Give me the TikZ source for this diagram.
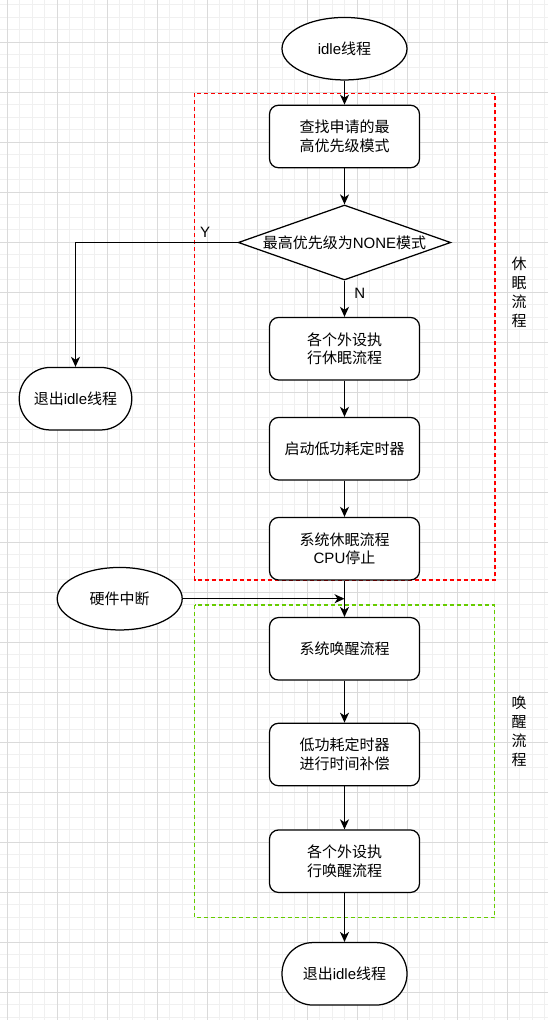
\documentclass[tikz,border=0pt]{standalone}
\usepackage{fontspec}
\setmainfont{Noto Sans CJK SC}
\newfontfamily\latin{Liberation Sans}
\usepackage{xcolor}
\usetikzlibrary{shapes.geometric, arrows.meta, positioning}
\definecolor{gridminor}{HTML}{F0F0F0}
\definecolor{gridmajor}{HTML}{DADADA}
\definecolor{sleepred}{HTML}{FF0000}
\definecolor{wakegreen}{HTML}{66CC00}

\begin{document}
\begin{tikzpicture}[
        x=1pt, y=-1pt,
        font=\fontsize{15}{18.5}\selectfont,
        box/.style={rectangle, draw, rounded corners=9pt, fill=white, line width=1.25pt, minimum width=150pt, minimum height=62.5pt, align=center, inner sep=0pt},
        term/.style={ellipse, draw, fill=white, line width=1.25pt, minimum width=125pt, minimum height=62.5pt, inner sep=0pt},
        stad/.style={rectangle, draw, rounded corners=31pt, fill=white, line width=1.25pt, minimum width=125pt, minimum height=62.5pt, inner sep=0pt},
        dec/.style={diamond, draw, fill=white, line width=1.25pt, aspect=2.83, minimum width=212.5pt, minimum height=75pt, inner sep=0pt},
        group/.style={line width=1.25pt, dash pattern=on 4pt off 3pt},
        arrow/.style={line width=1.25pt, -{Stealth[length=10pt, width=9pt, inset=3pt]}}
    ]
        \useasboundingbox (0,0) rectangle (548,1020);
        % background grid
        \fill[white] (0,0) rectangle (548,1020);
        \foreach \i in {0,...,43} \draw[gridminor, line width=1pt] ({7+12.5*\i},0) -- ({7+12.5*\i},1020);
        \foreach \j in {-3,...,78} \draw[gridminor, line width=1pt] (0,{42+12.5*\j}) -- (548,{42+12.5*\j});
        \foreach \i in {0,...,10} \draw[gridmajor, line width=1pt] ({7+50*\i},0) -- ({7+50*\i},1020);
        \foreach \j in {0,...,19} \draw[gridmajor, line width=1pt] (0,{42+50*\j}) -- (548,{42+50*\j});

        % groups
        \draw[group, sleepred] (194.7,93.3) rectangle (495,580);
        \draw[group, wakegreen] (194.5,605) rectangle (494.6,917.7);
        \node[align=center, font=\fontsize{15}{19}\selectfont] (SL) at (519,292) {休\\眠\\流\\程};
        \node[align=center, font=\fontsize{15}{19}\selectfont] (WL) at (519,731) {唤\\醒\\流\\程};

        \node[term] (I) at (344.5,48.7) {{\latin idle}线程};
        \node[box] (F) at (344.5,136.5) {查找申请的最\\高优先级模式};
        \node[dec] (D) at (344.5,242.5) {最高优先级为{\latin NONE}模式};
        \node[stad, minimum width=112.5pt] (X) at (75.5,398.7) {退出{\latin idle}线程};
        \node[box] (P) at (344.5,348.7) {各个外设执\\行休眠流程};
        \node[box] (L) at (344.5,448.7) {启动低功耗定时器};
        \node[box] (S) at (344.5,548.7) {系统休眠流程\\{\latin CPU}停止};
        \node[term] (H) at (119.7,598.7) {硬件中断};
        \node[box] (W) at (344.5,648.8) {系统唤醒流程};
        \node[box] (C) at (344.5,754.5) {低功耗定时器\\进行时间补偿};
        \node[box] (R) at (344.5,861.2) {各个外设执\\行唤醒流程};
        \node[stad] (E) at (344.5,973.8) {退出{\latin idle}线程};
        \coordinate (J) at (H.east -| S.south);

        \draw[arrow] (I) -- (F);
        \draw[arrow] (F) -- (D);
        \draw[arrow] (D.west) -| node[pos=0.1, above=1pt, font=\latin\fontsize{15}{18}\selectfont] {Y} (X.north);
        \draw[arrow] (D) -- node[pos=0.35, right=6pt, font=\latin\fontsize{15}{18}\selectfont] {N} (P);
        \draw[arrow] (P) -- (L);
        \draw[arrow] (L) -- (S);
        \draw[arrow] (S) -- (W);
        \draw[arrow] (H) -- (J);
        \draw[arrow] (W) -- (C);
        \draw[arrow] (C) -- (R);
        \draw[arrow] (R) -- (E);
    \end{tikzpicture}
\end{document}
